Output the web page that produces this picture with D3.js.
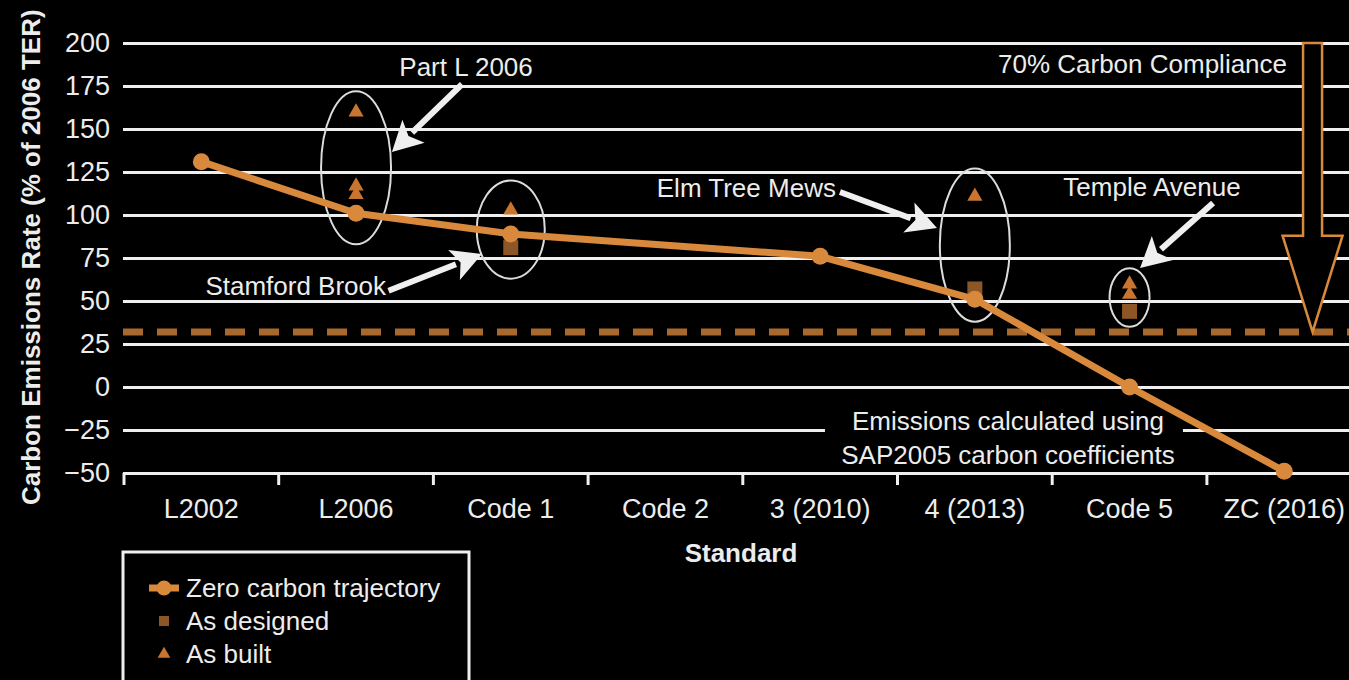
<!DOCTYPE html>
<html>
<head>
<meta charset="utf-8">
<script src="https://cdn.jsdelivr.net/npm/d3@7"></script>
<style>
  html, body { margin: 0; padding: 0; background: #000; }
  svg { display: block; }
  text { font-family: "Liberation Sans", Arial, Helvetica, sans-serif; fill: #ececec; }
</style>
</head>
<body>
<svg id="chart" width="1349" height="680"></svg>
<script>
// ---- data ----
const categories = ["L2002", "L2006", "Code 1", "Code 2", "3 (2010)", "4 (2013)", "Code 5", "ZC (2016)"];
const trajectory = [131, 101, 89, null, 76, 51, 0, -49];
const designedCats = ["Code 1", "4 (2013)", "Code 5"];
const designedValues = [81, 57, 44];
const builtCats = ["L2006", "L2006", "L2006", "Code 1", "4 (2013)", "Code 5", "Code 5"];
const builtValues = [161, 118, 113, 104, 112, 61, 55];
const yTickValues = [-50, -25, 0, 25, 50, 75, 100, 125, 150, 175, 200];
const complianceLevel = 32;

// ---- colours ----
const C_LINE = "#d8893c";
const C_BUILT = "#c9742f";
const C_DESIGNED = "#8c5627";
const C_DASH = "#a8692f";
const C_WHITE = "#efefef";

const W = 1349, H = 680;
const svg = d3.select("#chart");
svg.append("rect").attr("width", W).attr("height", H).attr("fill", "#000");

// ---- scales ----
const x = d3.scaleBand().domain(categories).range([124, 124 + 154.7 * categories.length]).padding(0);
const y = d3.scaleLinear().domain([-50, 200]).range([473, 43]);
// fractional position along the category axis (0 = left edge of first band)
const xi = i => x.range()[0] + x.step() * i;
const xc = c => x(c) + x.bandwidth() / 2;

// ---- horizontal grid + y tick labels ----
const yAxis = d3.axisLeft(y)
  .tickValues(yTickValues)
  .tickSizeInner(-(W - 123))
  .tickSizeOuter(0)
  .tickPadding(13)
  .tickFormat(d => d < 0 ? "\u2212" + Math.abs(d) : d);
const gy = svg.append("g").attr("transform", "translate(123,0)").call(yAxis);
gy.select(".domain").remove();
gy.selectAll(".tick line").attr("stroke", C_WHITE).attr("stroke-width", 3);
gy.selectAll(".tick text").attr("fill", C_WHITE).style("font-size", "27px").attr("font-family", null);

// ---- x axis: boundary ticks + centred labels ----
const gx = svg.append("g").attr("transform", `translate(0,${y(-50)})`);
gx.selectAll("line.bound")
  .data(categories)
  .join("line")
  .attr("class", "bound")
  .attr("x1", d => x(d)).attr("x2", d => x(d))
  .attr("y1", 0).attr("y2", 12)
  .attr("stroke", C_WHITE).attr("stroke-width", 3);
const xAxis = d3.axisBottom(x).tickSize(0).tickPadding(26);
const gxl = svg.append("g").attr("transform", `translate(0,${y(-50)})`).call(xAxis);
gxl.select(".domain").remove();
gxl.selectAll(".tick text").attr("fill", C_WHITE).style("font-size", "27px").attr("font-family", null);

// ---- axis titles ----
svg.append("text")
  .attr("transform", "translate(40,505) rotate(-90)")
  .attr("text-anchor", "start")
  .style("font-size", "26px").style("font-weight", "bold")
  .text("Carbon Emissions Rate (% of 2006 TER)");
svg.append("text")
  .attr("x", 741).attr("y", 562)
  .attr("text-anchor", "middle")
  .style("font-size", "26px").style("font-weight", "bold")
  .text("Standard");

// ---- 70% compliance level (dashed) ----
svg.append("line")
  .attr("x1", 123).attr("x2", W)
  .attr("y1", y(complianceLevel)).attr("y2", y(complianceLevel))
  .attr("stroke", C_DASH).attr("stroke-width", 7)
  .attr("stroke-dasharray", "20 14");

// ---- note box on the lower grid ----
const note = { i0: 4.531, i1: 6.845, vTop: -8.7, vBottom: -47, iText: 5.714 };
svg.append("rect")
  .attr("x", xi(note.i0)).attr("y", y(note.vTop))
  .attr("width", xi(note.i1) - xi(note.i0))
  .attr("height", y(note.vBottom) - y(note.vTop))
  .attr("fill", "#000");
const noteText = svg.append("text")
  .attr("text-anchor", "middle").style("font-size", "26px");
noteText.append("tspan").attr("x", xi(note.iText)).attr("y", y(-25)).text("Emissions calculated using");
noteText.append("tspan").attr("x", xi(note.iText)).attr("y", y(-45)).text("SAP2005 carbon coefficients");

// ---- big compliance arrow ----
const big = { i: 7.683, vTop: 200, vHead: 88, shaftHalf: 9.5, headHalf: 30 };
{
  const cx = xi(big.i);
  const t = y(big.vTop), hb = y(big.vHead), tip = y(complianceLevel);
  const pts = [
    [cx - big.shaftHalf, t], [cx + big.shaftHalf, t], [cx + big.shaftHalf, hb],
    [cx + big.headHalf, hb], [cx, tip], [cx - big.headHalf, hb], [cx - big.shaftHalf, hb]
  ];
  svg.append("path")
    .attr("d", d3.line()(pts) + "Z")
    .attr("fill", "#000").attr("stroke", C_LINE).attr("stroke-width", 2.5)
    .attr("stroke-linejoin", "miter");
}
svg.append("text")
  .attr("x", xi(7.518)).attr("y", y(182.6))
  .attr("text-anchor", "end").style("font-size", "26px")
  .text("70% Carbon Compliance");

// ---- ellipses round the measured developments ----
const groupCats = ["L2006", "Code 1", "4 (2013)", "Code 5"];
const groupTop = [172, 120, 127, 69];
const groupBottom = [83, 63, 38, 35];
const groupRx = [35, 34, 35, 20];
svg.append("g").selectAll("ellipse")
  .data(groupCats)
  .join("ellipse")
  .attr("cx", d => xc(d))
  .attr("cy", (d, k) => (y(groupTop[k]) + y(groupBottom[k])) / 2)
  .attr("rx", (d, k) => groupRx[k])
  .attr("ry", (d, k) => (y(groupBottom[k]) - y(groupTop[k])) / 2)
  .attr("fill", "none").attr("stroke", "#dcdcdc").attr("stroke-width", 2);

// ---- as designed (squares) ----
svg.append("g").selectAll("path")
  .data(designedValues)
  .join("path")
  .attr("transform", (v, k) => `translate(${xc(designedCats[k])},${y(v)})`)
  .attr("d", d3.symbol(d3.symbolSquare, 225)())
  .attr("fill", C_DESIGNED);

// ---- as built (triangles) ----
svg.append("g").selectAll("path")
  .data(builtValues)
  .join("path")
  .attr("transform", (v, k) => `translate(${xc(builtCats[k])},${y(v) + 2})`)
  .attr("d", d3.symbol(d3.symbolTriangle, 100)())
  .attr("fill", C_BUILT);

// ---- zero carbon trajectory ----
const traj = categories.map((c, k) => ({ c, v: trajectory[k] })).filter(d => d.v !== null);
svg.append("path")
  .datum(traj)
  .attr("d", d3.line().x(d => xc(d.c)).y(d => y(d.v)))
  .attr("fill", "none").attr("stroke", C_LINE).attr("stroke-width", 7)
  .attr("stroke-linejoin", "round");
svg.append("g").selectAll("circle")
  .data(traj)
  .join("circle")
  .attr("cx", d => xc(d.c)).attr("cy", d => y(d.v))
  .attr("r", 8.5).attr("fill", C_LINE);

// ---- call-out arrows and labels ----
function callout(tail, tipPt) {
  const x1 = xi(tail[0]), y1 = y(tail[1]), x2 = xi(tipPt[0]), y2 = y(tipPt[1]);
  const dx = x2 - x1, dy = y2 - y1, len = Math.hypot(dx, dy);
  const ux = dx / len, uy = dy / len;
  const headLen = 30, headHalf = 16;
  const bx = x2 - ux * headLen, by = y2 - uy * headLen;
  svg.append("line")
    .attr("x1", x1).attr("y1", y1).attr("x2", bx + ux * 2).attr("y2", by + uy * 2)
    .attr("stroke", C_WHITE).attr("stroke-width", 6);
  svg.append("path")
    .attr("d", d3.line()([[x2, y2], [bx - uy * headHalf, by + ux * headHalf], [bx + ux * 7, by + uy * 7], [bx + uy * headHalf, by - ux * headHalf]]) + "Z")
    .attr("fill", C_WHITE);
}
function label(txt, i, v, anchor) {
  svg.append("text").attr("x", xi(i)).attr("y", y(v))
    .attr("text-anchor", anchor).style("font-size", "26px").text(txt);
}

label("Part L 2006", 2.211, 180.8, "middle");
callout([2.185, 176], [1.732, 136.6]);

label("Stamford Brook", 1.694, 53.5, "end");
callout([1.71, 56], [2.314, 77.3]);

label("Elm Tree Mews", 4.602, 110.5, "end");
callout([4.628, 113.4], [5.255, 92.4]);

label("Temple Avenue", 6.645, 111, "middle");
callout([7.04, 107], [6.568, 69.2]);

// ---- legend ----
const lg = svg.append("g");
lg.append("rect")
  .attr("x", 123).attr("y", 552).attr("width", 346).attr("height", 160)
  .attr("fill", "#000").attr("stroke", C_WHITE).attr("stroke-width", 3);
lg.append("line").attr("x1", 149).attr("x2", 179).attr("y1", 588).attr("y2", 588)
  .attr("stroke", C_LINE).attr("stroke-width", 7);
lg.append("circle").attr("cx", 164).attr("cy", 588).attr("r", 7.5).attr("fill", C_LINE);
lg.append("path").attr("transform", "translate(164,621)")
  .attr("d", d3.symbol(d3.symbolSquare, 100)()).attr("fill", C_DESIGNED);
lg.append("path").attr("transform", "translate(164,654)")
  .attr("d", d3.symbol(d3.symbolTriangle, 70)()).attr("fill", C_BUILT);
const legendNames = ["Zero carbon trajectory", "As designed", "As built"];
lg.selectAll("text.item")
  .data(legendNames)
  .join("text")
  .attr("class", "item")
  .attr("x", 186).attr("y", (d, k) => 597 + k * 33)
  .style("font-size", "26px")
  .text(d => d);
</script>
</body>
</html>
